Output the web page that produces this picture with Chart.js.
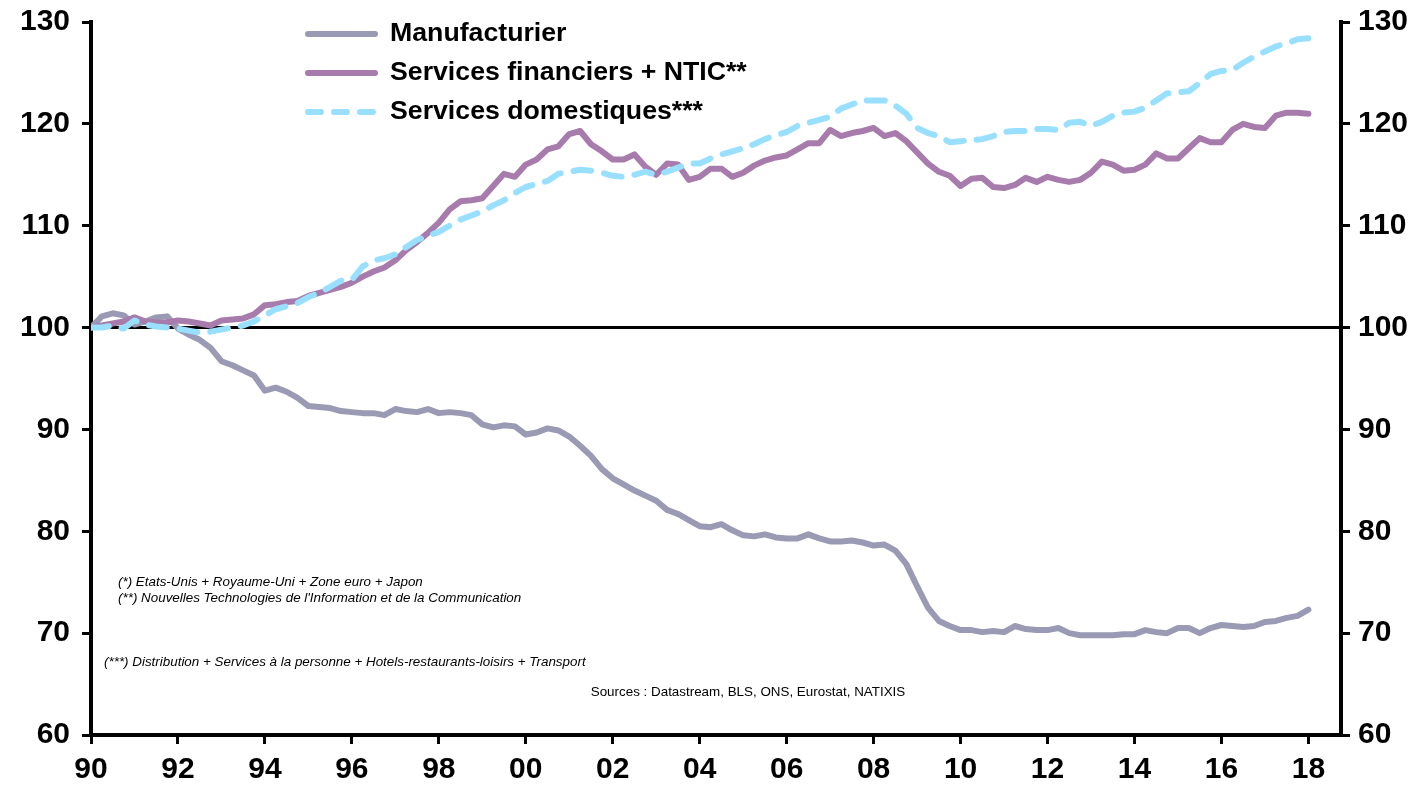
<!DOCTYPE html>
<html>
<head>
<meta charset="utf-8">
<script src="https://cdn.jsdelivr.net/npm/chart.js@4/dist/chart.umd.min.js"></script>
<style>
  body { margin: 0; background: #fff; }
  canvas { display: block; }
</style>
</head>
<body>
<canvas id="myChart" width="1426" height="790"></canvas>
<script>
const startYear = 1990
const xTickYears = [1990, 1992, 1994, 1996, 1998, 2000, 2002, 2004, 2006, 2008, 2010, 2012, 2014, 2016, 2018]
const yTicks = [60, 70, 80, 90, 100, 110, 120, 130]

const seriesLabels = ['Manufacturier', 'Services financiers + NTIC**', 'Services domestiques***']

// quarterly, 1990 Q1 -> 2018 Q1, base 100
const manufacturier = [
    100.0, 101.1, 101.4, 101.2, 100.3, 100.6, 101.0, 101.1, 99.9, 99.3,
    98.8, 98.0, 96.7, 96.3, 95.8, 95.3, 93.8, 94.1, 93.7, 93.1,
    92.3, 92.2, 92.1, 91.8, 91.7, 91.6, 91.6, 91.4, 92.0, 91.8,
    91.7, 92.0, 91.6, 91.7, 91.6, 91.4, 90.5, 90.2, 90.4, 90.3,
    89.5, 89.7, 90.1, 89.9, 89.3, 88.4, 87.4, 86.1, 85.2, 84.6,
    84.0, 83.5, 83.0, 82.1, 81.7, 81.1, 80.5, 80.4, 80.7, 80.1,
    79.6, 79.5, 79.7, 79.4, 79.3, 79.3, 79.7, 79.3, 79.0, 79.0,
    79.1, 78.9, 78.6, 78.7, 78.1, 76.8, 74.6, 72.5, 71.2, 70.7,
    70.3, 70.3, 70.1, 70.2, 70.1, 70.7, 70.4, 70.3, 70.3, 70.5,
    70.0, 69.8, 69.8, 69.8, 69.8, 69.9, 69.9, 70.3, 70.1, 70.0,
    70.5, 70.5, 70.0, 70.5, 70.8, 70.7, 70.6, 70.7, 71.1, 71.2,
    71.5, 71.7, 72.3
]
const servicesFinanciers = [
    100.0, 100.2, 100.4, 100.6, 101.0, 100.6, 100.5, 100.5, 100.7, 100.6,
    100.4, 100.2, 100.7, 100.8, 100.9, 101.3, 102.2, 102.3, 102.5, 102.6,
    103.1, 103.4, 103.7, 104.0, 104.4, 105.0, 105.5, 105.9, 106.6, 107.6,
    108.4, 109.3, 110.3, 111.6, 112.4, 112.5, 112.7, 113.9, 115.1, 114.8,
    116.0, 116.5, 117.5, 117.8, 119.0, 119.3, 118.0, 117.3, 116.5, 116.5,
    117.0, 115.8, 115.0, 116.1, 116.0, 114.5, 114.8, 115.6, 115.6, 114.8,
    115.2, 115.9, 116.4, 116.7, 116.9, 117.5, 118.1, 118.1, 119.4, 118.8,
    119.1, 119.3, 119.6, 118.8, 119.1, 118.3, 117.2, 116.1, 115.3, 114.9,
    113.9, 114.6, 114.7, 113.8, 113.7, 114.0, 114.7, 114.3, 114.8, 114.5,
    114.3, 114.5, 115.2, 116.3, 116.0, 115.4, 115.5, 116.0, 117.1, 116.6,
    116.6, 117.6, 118.6, 118.2, 118.2, 119.4, 120.0, 119.7, 119.6, 120.8,
    121.1, 121.1, 121.0
]
const servicesDomestiques = [
    100.0, 100.0, 100.2, 99.9, 100.7, 100.3, 100.1, 100.0, 99.9, 99.7,
    99.5, 99.6, 99.8, 100.0, 100.2, 100.6, 101.2, 101.8, 102.1, 102.4,
    103.0, 103.4, 104.0, 104.6, 104.7, 106.0, 106.6, 106.8, 107.2, 107.9,
    108.6, 109.0, 109.4, 110.0, 110.6, 111.0, 111.4, 112.0, 112.5, 113.2,
    113.8, 114.1, 114.4, 115.1, 115.3, 115.5, 115.4, 115.2, 114.9, 114.8,
    115.0, 115.3, 115.0, 115.3, 115.7, 116.1, 116.1, 116.6, 117.0, 117.3,
    117.6, 118.0, 118.5, 118.9, 119.2, 119.8, 120.1, 120.4, 120.7, 121.5,
    121.9, 122.3, 122.3, 122.3, 121.8, 121.0, 119.6, 119.1, 118.8, 118.2,
    118.3, 118.4, 118.5, 118.8, 119.2, 119.3, 119.3, 119.5, 119.5, 119.4,
    120.1, 120.2, 119.8, 120.2, 120.8, 121.1, 121.2, 121.6, 122.3, 123.0,
    123.1, 123.2, 124.0, 124.9, 125.2, 125.3, 126.0, 126.6, 127.1, 127.6,
    127.9, 128.3, 128.4
]

const notes = [
    '(*) Etats-Unis + Royaume-Uni + Zone euro + Japon',
    "(**) Nouvelles Technologies de l'Information et de la Communication",
    '(***) Distribution + Services à la personne + Hotels-restaurants-loisirs + Transport'
]
const sourceText = 'Sources : Datastream, BLS, ONS, Eurostat, NATIXIS'

const FONT = '"Liberation Sans", Arial, Helvetica, sans-serif'
const tickFont = { family: FONT, size: 30, weight: 'bold' }

const toPoints = values => values.map((v, i) => ({ x: startYear + i / 4, y: v }))

const legendPlugin = {
    id: 'topLegend',
    afterDraw(chart) {
        const ctx = chart.ctx
        chart.data.datasets.forEach((ds, i) => {
            const y = 34 + i * 39
            ctx.save()
            ctx.strokeStyle = ds.borderColor
            ctx.lineWidth = 6
            ctx.lineCap = 'round'
            ctx.setLineDash(ds.legendDash || [])
            ctx.beginPath()
            ctx.moveTo(308, y)
            ctx.lineTo(375, y)
            ctx.stroke()
            ctx.setLineDash([])
            ctx.fillStyle = '#000'
            ctx.font = 'bold 26.7px ' + FONT
            ctx.textBaseline = 'middle'
            ctx.fillText(ds.label, 390, y)
            ctx.restore()
        })
    }
}

const notesPlugin = {
    id: 'notes',
    afterDraw(chart) {
        const ctx = chart.ctx
        ctx.save()
        ctx.fillStyle = '#000'
        ctx.textBaseline = 'middle'
        ctx.font = 'italic 13.4px ' + FONT
        ctx.fillText(notes[0], 118, 582)
        ctx.fillText(notes[1], 118, 598)
        ctx.fillText(notes[2], 104, 662)
        ctx.font = '13.4px ' + FONT
        ctx.textAlign = 'center'
        ctx.fillText(sourceText, 748, 692)
        ctx.restore()
    }
}

const yTickSetup = scale => { scale.ticks = yTicks.map(v => ({ value: v })) }
const fitY = width => scale => {
    scale.width = width
    scale.paddingTop = 0
    scale.paddingBottom = 0
}

const ctx = document.getElementById('myChart')
const myChart = new Chart(ctx, {
    type: 'line',
    data: {
        datasets: [{
            label: seriesLabels[0],
            data: toPoints(manufacturier),
            borderColor: '#9a9ab4',
            order: 3
        }, {
            label: seriesLabels[1],
            data: toPoints(servicesFinanciers),
            borderColor: '#a87bad',
            order: 2
        }, {
            label: seriesLabels[2],
            data: toPoints(servicesDomestiques),
            borderColor: '#99dfff',
            borderDash: [18, 13],
            legendDash: [13, 13],
            order: 1
        }]
    },
    options: {
        responsive: false,
        devicePixelRatio: 1,
        animation: false,
        layout: { padding: { top: 22, bottom: 0, left: 0, right: 0 } },
        elements: {
            point: { radius: 0 },
            line: { borderWidth: 6, tension: 0, borderCapStyle: 'round', borderJoinStyle: 'round' }
        },
        plugins: {
            legend: { display: false },
            tooltip: { enabled: false }
        },
        scales: {
            x: {
                type: 'linear',
                position: 'bottom',
                min: 1990,
                max: 2018.75,
                afterBuildTicks: scale => { scale.ticks = xTickYears.map(v => ({ value: v })) },
                afterFit: scale => {
                    scale.height = 55
                    scale.paddingLeft = 0
                    scale.paddingRight = 0
                },
                border: { display: true, color: '#000', width: 4 },
                grid: { drawOnChartArea: false, color: '#000', tickLength: 9, lineWidth: 3 },
                ticks: {
                    color: '#000',
                    padding: 8,
                    maxRotation: 0,
                    autoSkip: false,
                    font: tickFont,
                    callback: v => String(v % 100).padStart(2, '0')
                }
            },
            y: {
                position: 'left',
                min: 60,
                max: 130,
                afterBuildTicks: yTickSetup,
                afterFit: fitY(91),
                border: { display: true, color: '#000', width: 4 },
                grid: {
                    drawOnChartArea: true,
                    color: c => c.tick && c.tick.value === 100 ? '#000' : 'rgba(0,0,0,0)',
                    lineWidth: 3,
                    tickColor: '#000',
                    tickLength: 9,
                    tickWidth: 3
                },
                ticks: {
                    color: '#000',
                    padding: 12,
                    font: tickFont
                }
            },
            y2: {
                position: 'right',
                min: 60,
                max: 130,
                afterBuildTicks: yTickSetup,
                afterFit: fitY(85),
                border: { display: true, color: '#000', width: 4 },
                grid: { drawOnChartArea: false, color: '#000', tickLength: 9, lineWidth: 3 },
                ticks: {
                    color: '#000',
                    padding: 8,
                    font: tickFont
                }
            }
        }
    },
    plugins: [legendPlugin, notesPlugin]
})
</script>
</body>
</html>
